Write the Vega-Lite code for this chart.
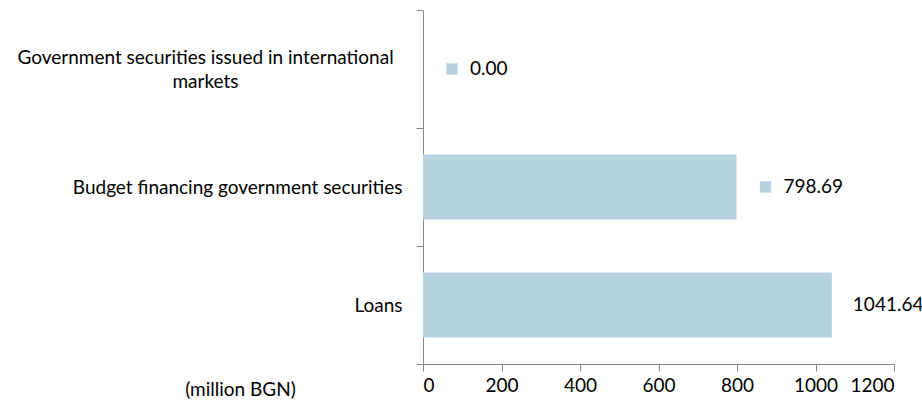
{
  "$schema": "https://vega.github.io/schema/vega-lite/v6.json",
  "width": 471,
  "height": 354,
  "autosize": {"type": "none"},
  "padding": {"left": 423, "top": 10, "right": 28, "bottom": 39},
  "background": "white",
  "config": {
    "view": {"stroke": null},
    "font": "Lato",
    "axis": {"labelFont": "Lato", "titleFont": "Lato"}
  },
  "data": {
    "values": [
      {"category": "Government securities issued in international markets", "value": 0.00},
      {"category": "Budget financing government securities", "value": 798.69},
      {"category": "Loans", "value": 1041.64}
    ]
  },
  "encoding": {
    "y": {
      "field": "category",
      "type": "nominal",
      "sort": null,
      "scale": {"paddingInner": 0, "paddingOuter": 0},
      "axis": {
        "title": null,
        "domainColor": "#888888",
        "tickColor": "#888888",
        "tickSize": 7,
        "tickBand": "extent",
        "labelFontSize": 19,
        "labelColor": "#000000",
        "labelLineHeight": 24,
        "labelLimit": 500,
        "labelExpr": "datum.value == 'Government securities issued in international markets' ? ['Government securities issued in international', 'markets'] : datum.value",
        "labelAlign": {"condition": {"test": "datum.value == 'Government securities issued in international markets'", "value": "center"}, "value": "right"},
        "labelPadding": {"condition": {"test": "datum.value == 'Government securities issued in international markets'", "value": 211}, "value": 14},
        "labelOffset": {"condition": {"test": "datum.value == 'Government securities issued in international markets'", "value": -12}, "value": 0}
      }
    },
    "x": {
      "field": "value",
      "type": "quantitative",
      "scale": {"domain": [0, 1200], "nice": false},
      "axis": {
        "values": [0, 200, 400, 600, 800, 1000, 1200],
        "format": "d",
        "grid": false,
        "domainColor": "#888888",
        "tickColor": "#888888",
        "tickSize": 7,
        "labelFontSize": 19,
        "labelColor": "#000000",
        "labelPadding": 5,
        "title": "(million BGN)",
        "titleFontSize": 19,
        "titleFontWeight": "normal",
        "titleColor": "#000000",
        "titleX": -183,
        "titleY": 25,
        "titleAlign": "center",
        "titleBaseline": "middle"
      }
    }
  },
  "layer": [
    {"mark": {"type": "bar", "color": "#b7d3df", "height": {"band": 0.55}}},
    {
      "transform": [{"filter": "datum.value < 1000"}],
      "mark": {"type": "square", "color": "#b7d3df", "opacity": 1, "filled": true, "size": 130, "xOffset": 29}
    },
    {
      "transform": [{"filter": "datum.value < 1000"}],
      "mark": {"type": "text", "align": "left", "baseline": "middle", "dx": 47, "fontSize": 19, "color": "#000000"},
      "encoding": {"text": {"field": "value", "type": "quantitative", "format": ".2f"}}
    },
    {
      "transform": [{"filter": "datum.value >= 1000"}],
      "mark": {"type": "text", "align": "left", "baseline": "middle", "dx": 21, "fontSize": 19, "color": "#000000"},
      "encoding": {"text": {"field": "value", "type": "quantitative", "format": ".2f"}}
    }
  ]
}
